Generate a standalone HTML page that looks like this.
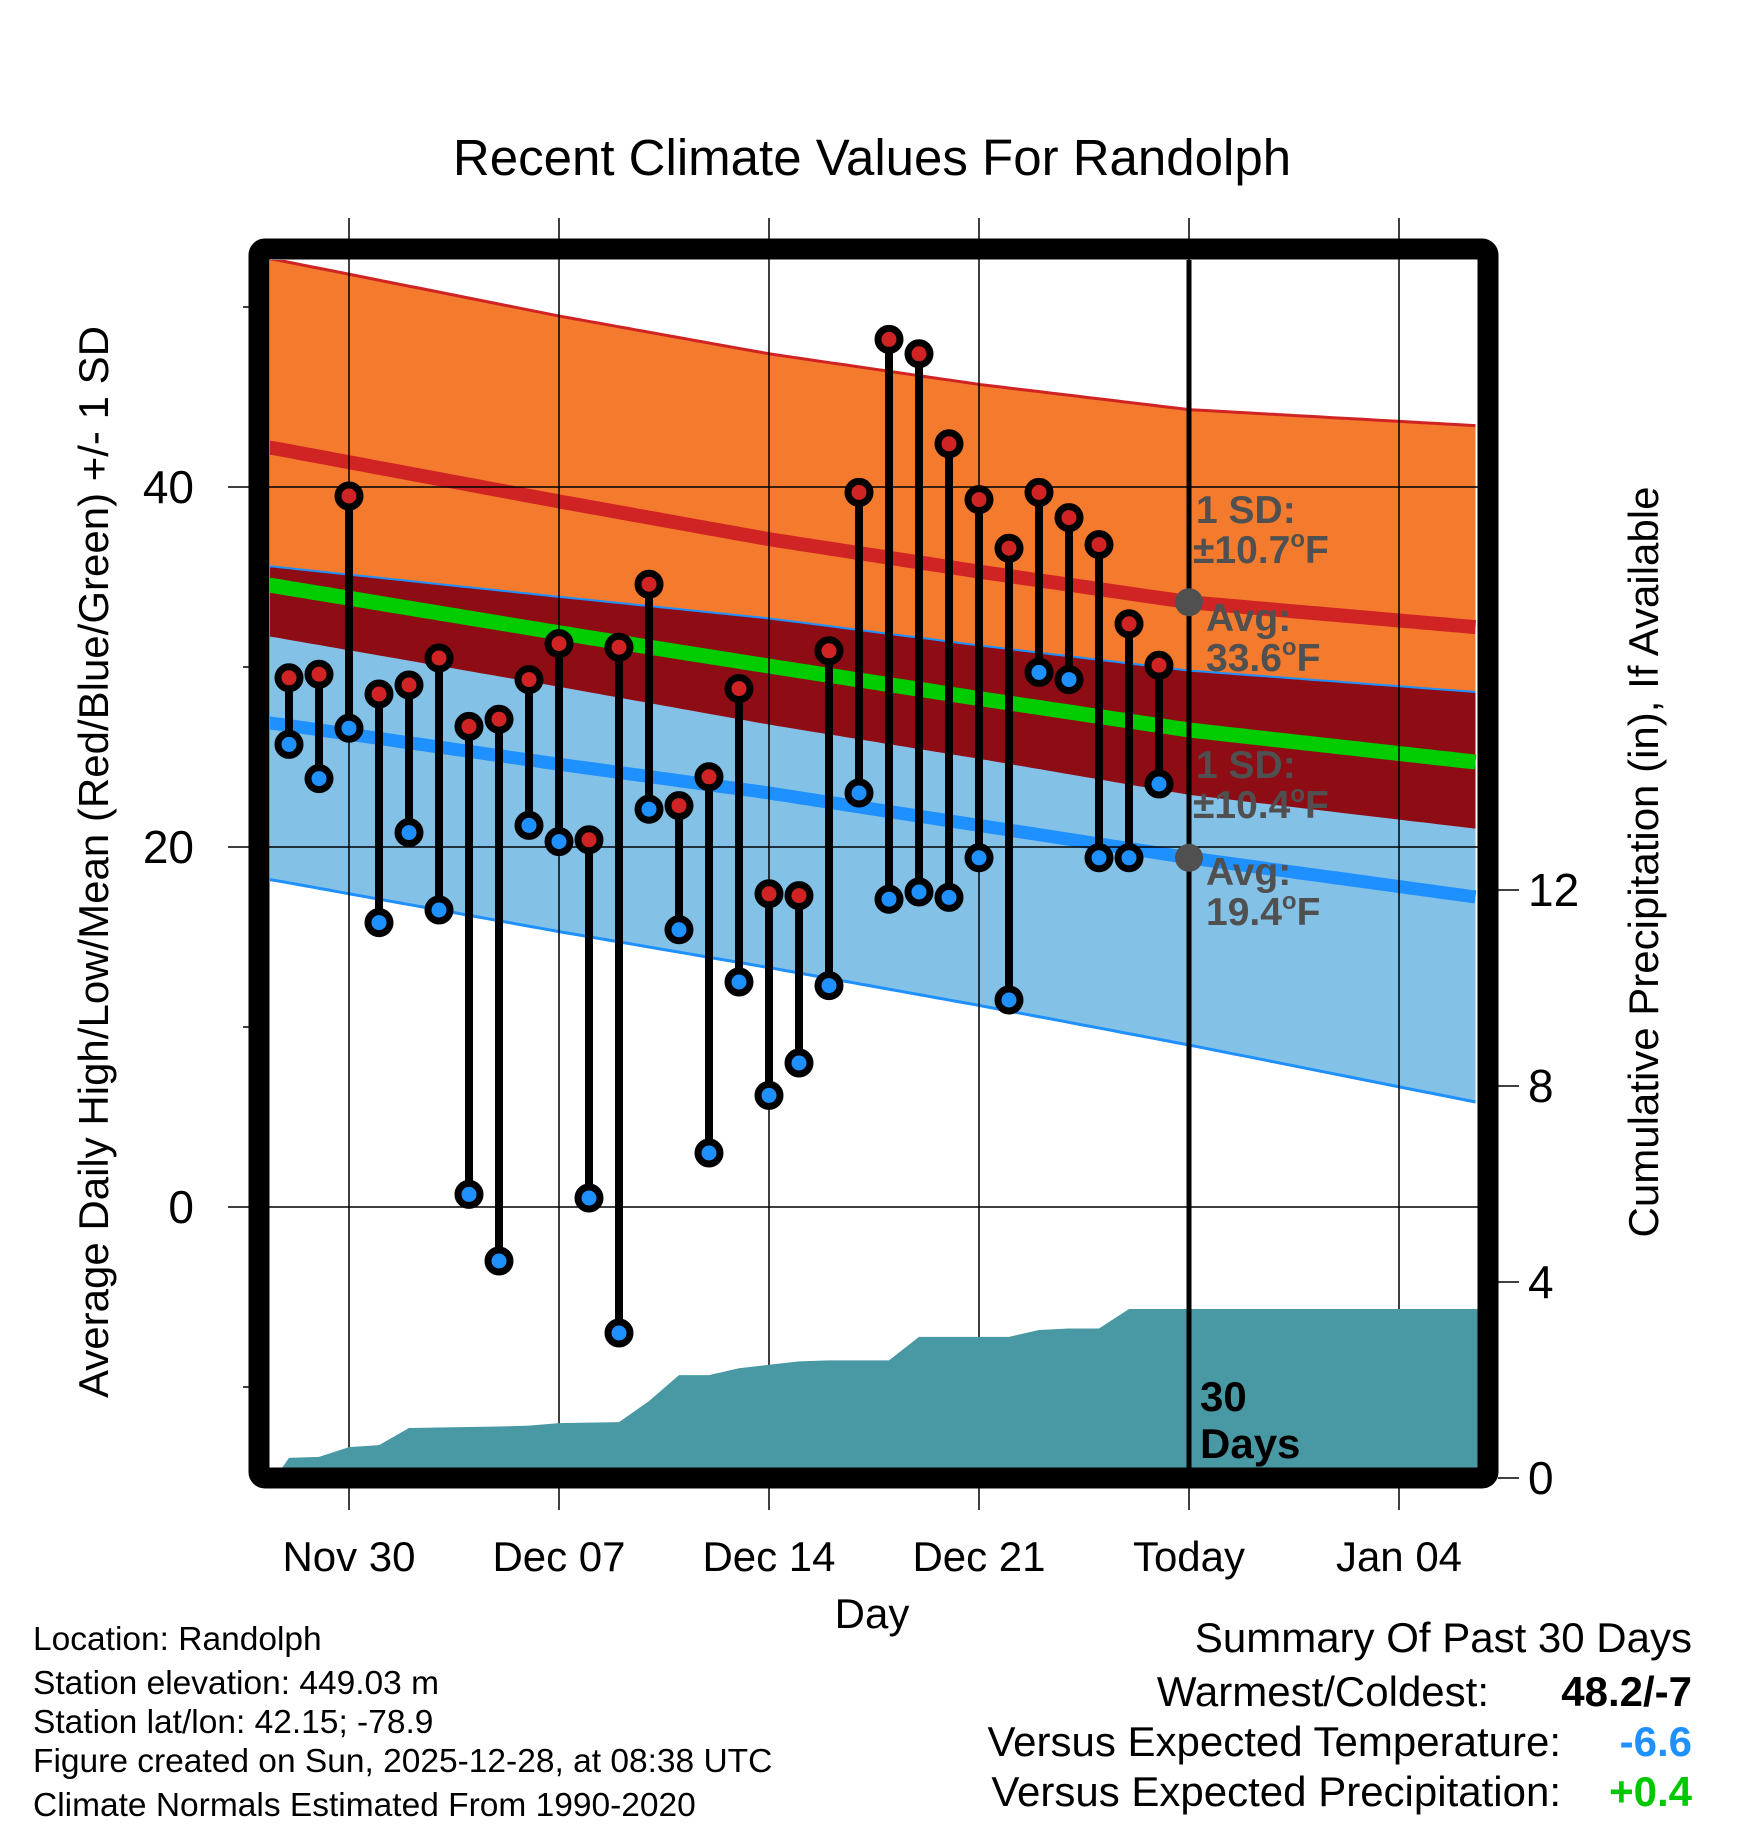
<!DOCTYPE html>
<html><head><meta charset="utf-8"><style>
html,body{margin:0;padding:0;background:#fff}
svg{display:block;font-family:"Liberation Sans",Arial,sans-serif}
</style></head><body>
<svg id="chart" width="1748" height="1828" viewBox="0 0 1748 1828" xmlns="http://www.w3.org/2000/svg">
<defs><clipPath id="plotclip"><rect x="270" y="260" width="1208" height="1208"/></clipPath></defs>
<text x="872" y="175" font-size="51" text-anchor="middle">Recent Climate Values For Randolph</text>
<g id="bands" clip-path="url(#plotclip)"></g>
<g id="grid"></g>
<g id="precip" clip-path="url(#plotclip)"></g>
<g id="marks"></g>
<g id="annot"></g>
<rect x="259" y="249" width="1229" height="1229" rx="6" fill="none" stroke="#000" stroke-width="21"/>
<text x="872" y="1628" font-size="42" text-anchor="middle">Day</text>
<text transform="translate(108,862) rotate(-90)" font-size="42" text-anchor="middle">Average Daily High/Low/Mean (Red/Blue/Green) +/- 1 SD</text>
<text transform="translate(1658,862) rotate(-90)" font-size="42" text-anchor="middle">Cumulative Precipitation (in), If Available</text>
<g font-size="33.5">
<text x="33" y="1650">Location: Randolph</text>
<text x="33" y="1694">Station elevation: 449.03 m</text>
<text x="33" y="1733">Station lat/lon: 42.15; -78.9</text>
<text x="33" y="1772">Figure created on Sun, 2025-12-28, at 08:38 UTC</text>
<text x="33" y="1816">Climate Normals Estimated From 1990-2020</text>
</g>
<g font-size="42" text-anchor="end">
<text x="1692" y="1652">Summary Of Past 30 Days</text>
<text x="1489" y="1706">Warmest/Coldest:</text>
<text x="1692" y="1706" font-weight="bold">48.2/-7</text>
<text x="1561" y="1756">Versus Expected Temperature:</text>
<text x="1692" y="1756" font-weight="bold" fill="#1e90ff">-6.6</text>
<text x="1561" y="1806">Versus Expected Precipitation:</text>
<text x="1692" y="1806" font-weight="bold" fill="#00c800">+0.4</text>
</g>
</svg>
<script>
const NS="http://www.w3.org/2000/svg";
// data
const days=[-2,-1,0,1,2,3,4,5,6,7,8,9,10,11,12,13,14,15,16,17,18,19,20,21,22,23,24,25,26,27];
const highs=[29.4,29.6,39.5,28.5,29.0,30.5,26.7,27.1,29.3,31.3,20.4,31.1,34.6,22.3,23.9,28.8,17.4,17.3,30.9,39.7,48.2,47.4,42.4,39.3,36.6,39.7,38.3,36.8,32.4,30.1];
const lows=[25.7,23.8,26.6,15.8,20.8,16.5,0.7,-3.0,21.2,20.3,0.5,-7.0,22.1,15.4,3.0,12.5,6.2,8.0,12.3,23.0,17.1,17.5,17.2,19.4,11.5,29.7,29.3,19.4,19.4,23.5];
const precip=[0.41,0.43,0.63,0.67,1.02,1.03,1.04,1.05,1.07,1.12,1.13,1.14,1.57,2.10,2.10,2.24,2.31,2.38,2.40,2.40,2.40,2.88,2.88,2.88,2.88,3.02,3.05,3.05,3.45,3.45];
const normDays=[-2.65,7,14,21,28,37.65];
const normHigh=[42.2,39.2,37.1,35.3,33.6,32.2];
const highSD=[10.5,10.3,10.3,10.4,10.7,11.2];
const normLow=[26.9,24.6,23.0,21.2,19.4,17.2];
const lowSD=[8.7,9.3,9.7,10.0,10.4,11.4];
const xTickDays=[0,7,14,21,28,35];
const xTickLabels=["Nov 30","Dec 07","Dec 14","Dec 21","Today","Jan 04"];
const yTicks=[0,20,40];
const yMinor=[-10,10,30,50];
const pTicks=[0,4,8,12];
const todayDay=28;
const todayHighAvg=33.6, todayLowAvg=19.4;

const X=d=>349+30*d;
const Y=t=>1207-18*t;
const P=p=>1478-49*p;
function el(tag,attrs,parent){const e=document.createElementNS(NS,tag);for(const k in attrs)e.setAttribute(k,attrs[k]);parent.appendChild(e);return e;}
function interp(arr,d){
  if(d<=normDays[0])return arr[0];
  for(let i=1;i<normDays.length;i++){if(d<=normDays[i]){const f=(d-normDays[i-1])/(normDays[i]-normDays[i-1]);return arr[i-1]+f*(arr[i]-arr[i-1]);}}
  return arr[arr.length-1];
}
const samp=[];for(let d=-2.7;d<=37.7;d+=0.25)samp.push(d);
const f=(fn)=>samp.map(d=>X(d).toFixed(1)+","+Y(fn(d)).toFixed(1));
const hi=d=>interp(normHigh,d), hs=d=>interp(highSD,d), lo=d=>interp(normLow,d), ls=d=>interp(lowSD,d);
const bands=document.getElementById('bands');
function band(fa,fb,color,name){const p=el('polygon',{points:f(fa).concat(f(fb).reverse()).join(' '),fill:color},bands);
}
function line(fn,color,w,name){const p=el('polyline',{points:f(fn).join(' '),fill:'none',stroke:color,'stroke-width':w},bands);
}
band(d=>hi(d)+hs(d),d=>hi(d)-hs(d),'#f47a2d','high-sd-band');
band(d=>lo(d)+ls(d),d=>lo(d)-ls(d),'#84c1e7','low-sd-band');
band(d=>Math.min(lo(d)+ls(d),hi(d)+hs(d)),d=>Math.max(hi(d)-hs(d),lo(d)-ls(d)),'#8e0c14','overlap-band');
line(d=>hi(d)+hs(d),'#d02424',3,'high-plus-sd-line');
line(d=>lo(d)+ls(d),'#1e90ff',2,'low-plus-sd-line');
line(d=>lo(d)-ls(d),'#1e90ff',3,'low-minus-sd-line');
line(hi,'#d02424',14,'normal-high-line');
line(d=>(hi(d)+lo(d))/2,'#00cc00',15,'normal-mean-line');
line(lo,'#1e90ff',13,'normal-low-line');

const grid=document.getElementById('grid');
xTickDays.forEach((d,i)=>{
  const l=el('line',{x1:X(d),x2:X(d),y1:218,y2:1468,stroke:'#000','stroke-width':1.5},grid);
  
  const t=el('line',{x1:X(d),x2:X(d),y1:1488,y2:1510,stroke:'#000','stroke-width':1.5},grid);
  
  const tx=el('text',{x:X(d),y:1571,'font-size':42,'text-anchor':'middle'},grid);tx.textContent=xTickLabels[i];
  
});
yTicks.forEach(v=>{
  const l=el('line',{x1:228,x2:1478,y1:Y(v),y2:Y(v),stroke:'#000','stroke-width':1.5},grid);
  
  const tx=el('text',{x:194,y:Y(v)+16,'font-size':46,'text-anchor':'end'},grid);tx.textContent=v;
  
});
yMinor.forEach(v=>{
  const l=el('line',{x1:243,x2:250,y1:Y(v),y2:Y(v),stroke:'#000','stroke-width':1.5},grid);
  
});
pTicks.forEach(v=>{
  const l=el('line',{x1:1498,x2:1519,y1:P(v),y2:P(v),stroke:'#000','stroke-width':1.5},grid);
  
  const tx=el('text',{x:1528,y:P(v)+16,'font-size':46},grid);tx.textContent=v;
  
});

const pg=document.getElementById('precip');
let pts=[X(-2.47)+","+P(0)];
days.forEach((d,i)=>pts.push(X(d)+","+P(precip[i])));
pts.push(X(38)+","+P(precip[precip.length-1]));
pts.push(X(38)+","+P(0));
const pp=el('polygon',{points:pts.join(' '),fill:'#4899a3'},pg);


const mk=document.getElementById('marks');
const tl=el('line',{x1:X(todayDay),x2:X(todayDay),y1:260,y2:1468,stroke:'#000','stroke-width':5},mk);

days.forEach((d,i)=>{
  const s=el('line',{x1:X(d),x2:X(d),y1:Y(highs[i]),y2:Y(lows[i]),stroke:'#000','stroke-width':8},mk);
  
});
days.forEach((d,i)=>{
  const h=el('circle',{cx:X(d),cy:Y(highs[i]),r:11,fill:'#d02424',stroke:'#000','stroke-width':7},mk);
  
  const l=el('circle',{cx:X(d),cy:Y(lows[i]),r:11,fill:'#1e90ff',stroke:'#000','stroke-width':7},mk);
  
});
const an=document.getElementById('annot');
[todayHighAvg,todayLowAvg].forEach(v=>{
  const c=el('circle',{cx:X(todayDay),cy:Y(v),r:14,fill:'#505050'},an);
  
});
</script>
<svg style="position:absolute;left:0;top:0" width="1748" height="1828">
<g font-family="Liberation Sans, Arial, sans-serif" font-weight="bold" font-size="39" fill="#505050">
<text x="1196" y="523">1 SD:</text>
<text x="1193" y="563">±10.7<tspan font-size="24" dy="-16">o</tspan><tspan dy="16">F</tspan></text>
<text x="1206" y="631">Avg:</text>
<text x="1206" y="671">33.6<tspan font-size="24" dy="-16">o</tspan><tspan dy="16">F</tspan></text>
<text x="1196" y="778">1 SD:</text>
<text x="1193" y="818">±10.4<tspan font-size="24" dy="-16">o</tspan><tspan dy="16">F</tspan></text>
<text x="1206" y="885">Avg:</text>
<text x="1206" y="925">19.4<tspan font-size="24" dy="-16">o</tspan><tspan dy="16">F</tspan></text>
</g>
<g font-family="Liberation Sans, Arial, sans-serif" font-weight="bold" font-size="42" fill="#000">
<text x="1200" y="1411">30</text>
<text x="1200" y="1458">Days</text>
</g>
</svg>
</body></html>
